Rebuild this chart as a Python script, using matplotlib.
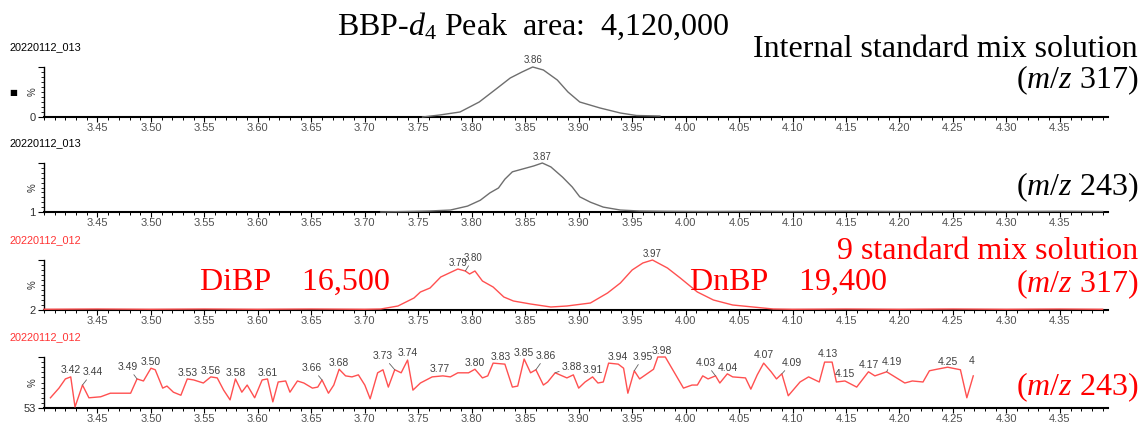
import numpy as np
import matplotlib.pyplot as plt
from matplotlib.ticker import FixedLocator, MultipleLocator

plt.rcParams['font.family'] = 'Liberation Sans'
plt.rcParams['mathtext.fontset'] = 'custom'
plt.rcParams['mathtext.rm'] = 'Liberation Serif'
plt.rcParams['mathtext.it'] = 'Liberation Serif:italic'

# 20220112_013 : internal standard mix, m/z 317 (BBP-d4)
rt_is317 = [3.754, 3.770, 3.789, 3.807, 3.824, 3.836, 3.847, 3.857, 3.867,
            3.880, 3.890, 3.901, 3.920, 3.939, 3.954, 3.976]
int_is317 = [0, 4, 10, 30, 58, 78, 90, 100, 94, 74, 50, 30, 18, 8, 3, 2]
peaks_is317 = ['3.86']

# 20220112_013 : internal standard mix, m/z 243
rt_is243 = [3.715, 3.760, 3.780, 3.796, 3.808, 3.817, 3.825, 3.831, 3.838,
            3.848, 3.858, 3.866, 3.874, 3.885, 3.894, 3.901, 3.911, 3.923,
            3.939, 3.957, 3.980, 4.020, 4.060, 4.100, 4.150, 4.200, 4.250,
            4.300, 4.350, 4.390]
int_is243 = [0, 2, 4, 12, 24, 39, 49, 67, 82, 88, 94, 100, 92, 71, 51, 31, 20,
             10, 4, 2, 1.5, 1, 1.5, 1, 1.5, 1, 1.5, 1, 1.5, 1]
peaks_is243 = ['3.87']

# 20220112_012 : 9 standard mix, m/z 317 (DiBP, DnBP)
rt_std317 = [3.400, 3.450, 3.500, 3.550, 3.600, 3.650, 3.700, 3.715, 3.731,
             3.746, 3.752, 3.761, 3.771, 3.787, 3.794, 3.798, 3.803, 3.810,
             3.820, 3.830, 3.839, 3.855, 3.874, 3.889, 3.911, 3.927, 3.939,
             3.950, 3.960, 3.969, 3.983, 3.995, 4.011, 4.026, 4.044, 4.063,
             4.082, 4.100, 4.150, 4.200, 4.250, 4.300, 4.350, 4.390]
int_std317 = [1.5, 2, 1.5, 2, 1.5, 2, 1.5, 2, 8, 24, 36, 44, 66, 82, 78, 72,
              78, 58, 46, 26, 18, 12, 6, 8, 14, 34, 54, 80, 94, 100, 84, 64,
              36, 20, 10, 6, 2, 1.5, 2, 1.5, 2, 1.5, 2, 1.5]
peaks_std317 = ['3.79', '3.80', '3.97']

# 20220112_012 : 9 standard mix, m/z 243
rt_std243 = [3.406, 3.414, 3.420, 3.425, 3.429, 3.436, 3.442, 3.453, 3.462,
             3.471, 3.481, 3.487, 3.493, 3.500, 3.504, 3.511, 3.515, 3.521,
             3.528, 3.534, 3.540, 3.549, 3.556, 3.562, 3.568, 3.574, 3.579,
             3.585, 3.590, 3.597, 3.604, 3.609, 3.614, 3.619, 3.626, 3.630,
             3.637, 3.643, 3.651, 3.656, 3.660, 3.666, 3.671, 3.676, 3.682,
             3.688, 3.694, 3.700, 3.705, 3.712, 3.717, 3.722, 3.728, 3.734,
             3.740, 3.745, 3.752, 3.763, 3.773, 3.780, 3.787, 3.797, 3.803,
             3.810, 3.815, 3.820, 3.831, 3.838, 3.843, 3.849, 3.855, 3.860,
             3.867, 3.871, 3.878, 3.889, 3.895, 3.900, 3.906, 3.913, 3.918,
             3.923, 3.928, 3.937, 3.942, 3.946, 3.952, 3.957, 3.970, 3.974,
             3.981, 3.998, 4.006, 4.011, 4.016, 4.021, 4.028, 4.032, 4.039,
             4.044, 4.056, 4.061, 4.067, 4.073, 4.080, 4.085, 4.090, 4.096,
             4.107, 4.115, 4.125, 4.130, 4.137, 4.141, 4.149, 4.160, 4.171,
             4.177, 4.188, 4.205, 4.212, 4.222, 4.228, 4.235, 4.245, 4.257,
             4.263, 4.269]
int_std243 = [20, 39, 57, 61, 2, 45, 20, 22, 29, 29, 29, 57, 53, 78, 75, 39,
              43, 31, 25, 57, 55, 49, 61, 59, 35, 16, 57, 31, 45, 20, 55, 57,
              12, 51, 53, 31, 53, 49, 39, 41, 55, 29, 45, 76, 63, 61, 65, 45,
              18, 69, 75, 41, 75, 69, 94, 35, 49, 61, 63, 61, 69, 69, 76, 59,
              63, 88, 86, 41, 43, 96, 69, 75, 45, 51, 69, 59, 65, 39, 51, 61,
              49, 51, 88, 86, 78, 29, 73, 57, 76, 100, 100, 39, 45, 45, 63, 57,
              63, 49, 67, 61, 59, 37, 65, 88, 71, 57, 67, 24, 51, 61, 51, 90,
              90, 51, 53, 41, 71, 63, 71, 49, 53, 51, 73, 76, 80, 75, 20, 63]
peaks_std243 = ['3.42', '3.44', '3.49', '3.50', '3.53', '3.56', '3.58', '3.61',
                '3.66', '3.68', '3.73', '3.74', '3.77', '3.80', '3.83', '3.85',
                '3.86', '3.88', '3.91', '3.94', '3.95', '3.98', '4.03', '4.04',
                '4.07', '4.09', '4.13', '4.15', '4.17', '4.19', '4.25']

x_ticks = [3.45, 3.50, 3.55, 3.60, 3.65, 3.70, 3.75, 3.80, 3.85, 3.90, 3.95,
           4.00, 4.05, 4.10, 4.15, 4.20, 4.25, 4.30, 4.35]

# label offsets in pixels (right, up) from each apex
offs_is317 = [(0, 7)]
offs_is243 = [(0, 6)]
offs_std317 = [(0, 6), (8, 13), (0, 6)]
offs_std243 = [(0, 7), (10, 13), (-9, 12), (0, 6), (0, 6), (0, 6), (0, 6),
               (0, 6), (-10, 12), (0, 6), (-12, 14), (0, 7), (-3, 7), (0, 6),
               (-4, 7), (0, 6), (10, 14), (17, 6), (0, 7), (0, 7), (9, 14),
               (4, 6), (-10, 13), (0, 6), (0, 8), (10, 11), (3, 8), (0, 7),
               (0, 7), (5, 10), (0, 5)]

W, H = 1141, 425
GRAY = '#6e6e6e'
PINK = '#ff5050'
RED = '#ff0000'


def px(x, y):
    return x / W, 1 - y / H


fig = plt.figure(figsize=(W / 100, H / 100), dpi=100)

panels = [
    (67, 117, rt_is317, int_is317, GRAY, '0', '20220112_013', 'black', peaks_is317, offs_is317, 7),
    (163, 212, rt_is243, int_is243, GRAY, '1', '20220112_013', 'black', peaks_is243, offs_is243, 7),
    (260, 310, rt_std317, int_std317, PINK, '2', '20220112_012', '#ff3333', peaks_std317, offs_std317, 7),
    (357, 408, rt_std243, int_std243, PINK, '53', '20220112_012', '#ff3333', peaks_std243, offs_std243, 7.5),
]

for top, bot, rt, inten, col, base, run, runcol, peaks, offs, lfs in panels:
    ax = fig.add_axes([44 / W, 1 - bot / H, 1064 / W, (bot - top) / H])
    rt = np.array(rt)
    inten = np.array(inten, dtype=float)
    ax.plot(rt, inten, color=col, lw=1.0, clip_on=False, zorder=3)
    ax.set_xlim(3.40, 4.395)
    ax.set_ylim(0, 100)

    for s in ['top', 'right']:
        ax.spines[s].set_visible(False)
    ax.spines['bottom'].set_linewidth(1.5)
    ax.spines['left'].set_linewidth(1.0)

    ax.xaxis.set_major_locator(FixedLocator(x_ticks))
    ax.xaxis.set_minor_locator(MultipleLocator(0.01))
    ax.set_xticklabels([f'{t:.2f}' for t in x_ticks])
    ax.tick_params(axis='x', which='major', direction='out', length=3.5, width=0.8,
                   pad=1, labelsize=8, labelcolor='#505050')
    ax.tick_params(axis='x', which='minor', direction='out', length=2.5, width=0.7)

    ax.yaxis.set_major_locator(FixedLocator([0, 100]))
    ax.set_yticklabels([base, ''])
    ax.yaxis.set_minor_locator(MultipleLocator(10))
    ax.tick_params(axis='y', which='major', length=4, width=0.8, pad=2,
                   labelsize=8, labelcolor='#303030')
    ax.tick_params(axis='y', which='minor', length=2, width=0.6)
    ax.text(-11 / 1064, 0.5, '%', transform=ax.transAxes, rotation=90,
            ha='center', va='center', fontsize=7, color='#303030')

    # run name above each trace
    fig.text(10 / W, 1 - (top - 20) / H, run, fontsize=7.8, color=runcol,
             ha='left', va='center')

    # retention time labels on the apexes
    for lab, (dx, dy) in zip(peaks, offs):
        v = float(lab)
        win = np.where(np.abs(rt - v) <= 0.0065)[0]
        i = win[np.argmax(inten[win])]
        lead = abs(dx) >= 5 or dy >= 10
        ax.annotate(lab, (rt[i], inten[i]), xytext=(dx, dy),
                    textcoords='offset pixels', ha='center', va='center',
                    fontsize=lfs, color='#404040', annotation_clip=False,
                    arrowprops=dict(arrowstyle='-', color='#606060', lw=0.6,
                                    shrinkA=0, shrinkB=0) if lead else None)

    if base == '53':
        ax.annotate('4', (rt[-1], inten[-1]), xytext=(-2, 15),
                    textcoords='offset pixels', ha='center', va='center',
                    fontsize=lfs, color='#404040', annotation_clip=False)

fig.text(*px(13, 92), '\u25a0', fontsize=6, ha='center', va='center', family='DejaVu Sans')

serif = dict(family='Liberation Serif', fontsize=23, va='baseline')
fig.text(*px(533, 35), r'BBP-$\mathit{d}_{\mathrm{4}}$ Peak  area:  4,120,000',
         ha='center', color='black', **serif)
fig.text(*px(1138, 57), 'Internal standard mix solution', ha='right', color='black', **serif)
fig.text(*px(1138, 88), r'($\mathit{m/z}$ 317)', ha='right', color='black', **serif)
fig.text(*px(1138, 195), r'($\mathit{m/z}$ 243)', ha='right', color='black', **serif)
fig.text(*px(1138, 259), '9 standard mix solution', ha='right', color=RED, **serif)
fig.text(*px(1138, 292), r'($\mathit{m/z}$ 317)', ha='right', color=RED, **serif)
fig.text(*px(200, 290), 'DiBP    16,500', ha='left', color=RED, **serif)
fig.text(*px(690, 290), 'DnBP    19,400', ha='left', color=RED, **serif)
fig.text(*px(1138, 395), r'($\mathit{m/z}$ 243)', ha='right', color=RED, **serif)

fig.savefig('out.png', dpi=100)
